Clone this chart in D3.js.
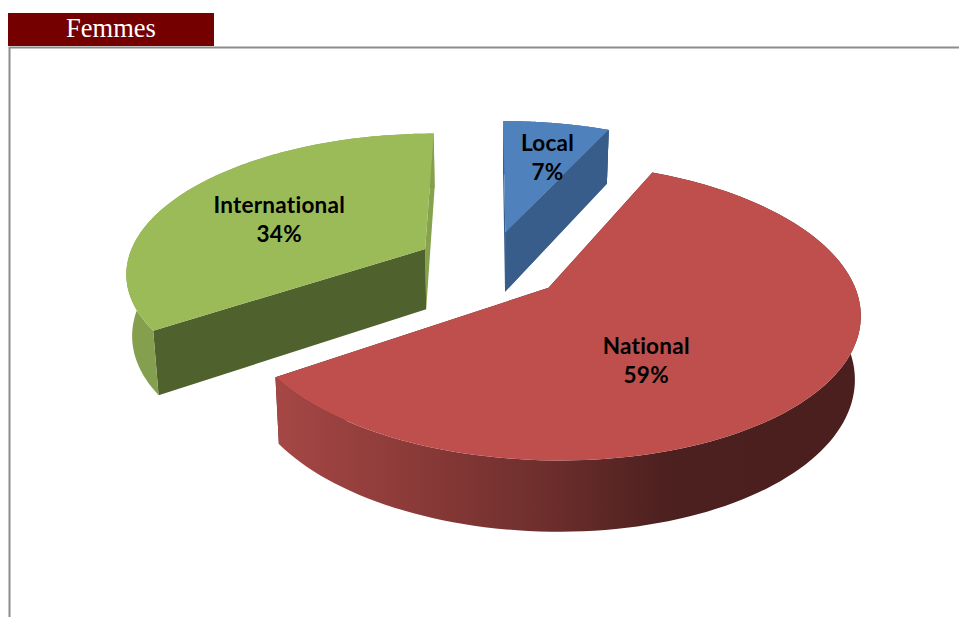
<!DOCTYPE html>
<html lang="fr">
<head>
<meta charset="utf-8">
<title>Femmes</title>
<script src="https://cdn.jsdelivr.net/npm/d3@7/dist/d3.min.js"></script>
<style>
html,body{margin:0;padding:0;background:#fff;overflow:hidden}
svg{display:block}
</style>
</head>
<body>
<svg id="chart" width="959" height="617"></svg>
<script>
const title = "Femmes";
const categories = ["Local", "National", "International"];
const values = [6.8, 58.6, 34.4];
const topColors = ["#4f81bd", "#be4f4c", "#9bbb59"];
const cutColors = ["#385d8a", "#4a1f1e", "#4f612c"];
const endColors = ["#3f6a9e", "#4a1f1e", "#86a24c"];
const wallColors = ["#385d8a", "url(#nationalWall)", "#84a04e"];
const wallStops = ["#a54745", "#8c3b39", "#6f2f2d", "#4b201f", "#4a1f1e"];
const labelAngleShift = [2.2, 18.4, -4.1];
const labelRadius = [0.664, 0.54, 0.571];

const W = 959, H = 617;
const cx = 490, cy = 265, R = 299, TR = 138, k = 0.155, DEPTH = 61, SHRINK = 0.984, EXPLODE = 0.25;
const svg = d3.select("#chart");
const defs = svg.append("defs");
const rad = d => d * Math.PI / 180;

const xPos = d3.scaleLinear().domain([0, 1]).range([cx, cx + R]);
const yPos = d3.scaleLinear().domain([0, 1]).range([cy, cy - TR]);

function project(u, v, bottom) {
  const w = 1 + k * v;
  const s = bottom ? SHRINK : 1;
  const x = cx + (xPos(u / w) - cx) * s;
  const y = cy + (yPos(v / w) - cy) * s + (bottom ? DEPTH / w : 0);
  return [x, y];
}

const pie = d3.pie().sort(null).value(d => d);
const arcs = pie(values);
const line = d3.line();

const grad = defs.append("linearGradient")
  .attr("id", "nationalWall").attr("gradientUnits", "userSpaceOnUse")
  .attr("x1", 276).attr("x2", 860).attr("y1", 0).attr("y2", 0);
const stopAt = d3.scaleLinear().domain([0, wallStops.length - 1]).range([0, 0.9]);
wallStops.forEach((c, i) => grad.append("stop").attr("offset", stopAt(i)).attr("stop-color", c));

svg.append("path").attr("d", `M9.5,${H} V47.5 H${W}`).attr("fill", "none").attr("stroke", "#8c8c8c").attr("stroke-width", 2);
svg.append("rect").attr("x", 8).attr("y", 13).attr("width", 206).attr("height", 33).attr("fill", "#750000");
svg.append("text").attr("x", 111).attr("y", 37).attr("text-anchor", "middle")
  .attr("font-family", "'Liberation Serif', serif").attr("font-size", 26.5).attr("fill", "#fff").text(title);

function drawSlice(i) {
  const a = arcs[i];
  const mid = (a.startAngle + a.endAngle) / 2;
  const ox = EXPLODE * Math.sin(mid), oy = EXPLODE * Math.cos(mid);
  const pt = (ang, r, bottom) => project(ox + r * Math.sin(ang), oy + r * Math.cos(ang), bottom);
  const steps = d3.range(0, 121).map(t => a.startAngle + (a.endAngle - a.startAngle) * t / 120);
  const g = svg.append("g").attr("class", "slice-" + categories[i]);
  const quad = ang => [pt(ang, 0, false), pt(ang, 1, false), pt(ang, 1, true), pt(ang, 0, true)];

  g.append("path").attr("d", line(quad(a.endAngle)) + "Z").attr("fill", endColors[i]);
  g.append("path").attr("d", line(quad(a.startAngle)) + "Z").attr("fill", cutColors[i]);
  const wall = steps.map(t => pt(t, 1, false)).concat(steps.slice().reverse().map(t => pt(t, 1, true)));
  g.append("path").attr("d", line(wall) + "Z").attr("fill", wallColors[i]);
  const top = [pt(a.startAngle, 0, false)].concat(steps.map(t => pt(t, 1, false)));
  g.append("path").attr("d", line(top) + "Z").attr("fill", topColors[i]);
  if (i === 0) g.append("path").attr("d", line(quad(a.endAngle)) + "Z").attr("fill", cutColors[0]);
}
[2, 0, 1].forEach(drawSlice);

arcs.forEach((a, i) => {
  const mid = (a.startAngle + a.endAngle) / 2;
  const ox = EXPLODE * Math.sin(mid), oy = EXPLODE * Math.cos(mid);
  const la = mid + rad(labelAngleShift[i]);
  const [x, y] = project(ox + labelRadius[i] * Math.sin(la), oy + labelRadius[i] * Math.cos(la), false);
  const t = svg.append("text").attr("text-anchor", "middle")
    .attr("font-family", "Lato, sans-serif").attr("font-weight", 700).attr("font-size", 22.5).attr("letter-spacing", 0.25).attr("fill", "#000");
  t.append("tspan").attr("x", x).attr("y", y - 6.5).text(categories[i]);
  t.append("tspan").attr("x", x).attr("y", y + 23).text(Math.round(values[i]) + "%");
});
</script>
</body>
</html>
